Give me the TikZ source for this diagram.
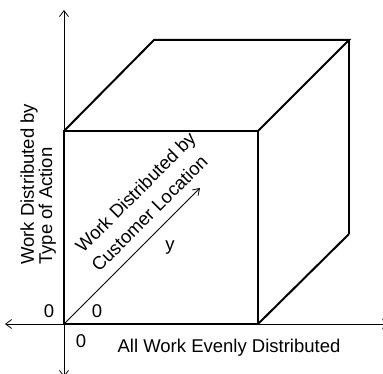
\documentclass[tikz,border=0pt]{standalone}
\usepackage{fontspec}
\setmainfont{Liberation Sans}
\usepackage{tikz}
\usetikzlibrary{arrows.meta, positioning}
\tikzset{
  edge/.style={line width=2pt, line join=miter},
  thinedge/.style={line width=1.4pt},
  axis/.style={line width=0.8pt, {Straight Barb[length=6pt, width=9pt]}-{Straight Barb[length=6pt, width=9pt]}},
  dirarrow/.style={line width=0.8pt, -{Straight Barb[length=6pt, width=8pt]}},
  lbl/.style={inner sep=0pt, align=center},
  every node/.style={font=\fontsize{18.5}{21}\selectfont}
}
\begin{document}
\begin{tikzpicture}[x=1pt, y=-1pt]
    \useasboundingbox (0,0) rectangle (383,374);
    % cube corners
    \coordinate (o) at (64,324);
    \coordinate (fbr) at (258,324);
    \coordinate (ftr) at (258,131);
    \coordinate (ftl) at (64,131);
    \coordinate (btl) at (154,40);
    \coordinate (btr) at (349,40);
    \coordinate (bbr) at (349,234);
    % axis ends
    \coordinate (xneg) at (5,324);
    \coordinate (xpos) at (389,324);
    \coordinate (yneg) at (64,377);
    \coordinate (ypos) at (64,10);
    \coordinate (ztip) at (200,188);
    % axes
    \draw[axis] (xneg) -- (xpos);
    \draw[axis] (yneg) -- (ypos);
    \draw[dirarrow] (o) -- (ztip);
    % cube
    \draw[edge] (o) -- (fbr) -- (ftr) -- (ftl) -- cycle;
    \draw[edge] (ftl) -- (btl) -- (btr) -- (ftr);
    \draw[edge] (fbr) -- (bbr);
    \draw[thinedge] (btr) -- (bbr);
    % labels
    \node[lbl] (zleft) at (49,311) {0};
    \node[lbl] (zdiag) at (97,311) {0};
    \node[lbl] (zdown) at (81,341) {0};
    \node[lbl] (xlabel) at (229,348) {All Work Evenly Distributed};
    \node[lbl] (ylbl) at (170,248) {y};
    \node[lbl, rotate=90, anchor=base west] (vlabA) at (34,265) {Work Distributed by};
    \node[lbl, rotate=90, anchor=base west] (vlabB) at (52,265) {Type of Action};
    \node[lbl, rotate=45, anchor=base west] (dlabA) at (83,254) {Work Distributed by};
    \node[lbl, rotate=45, anchor=base west] (dlabB) at (99,273) {Customer Location};
\end{tikzpicture}
\end{document}
